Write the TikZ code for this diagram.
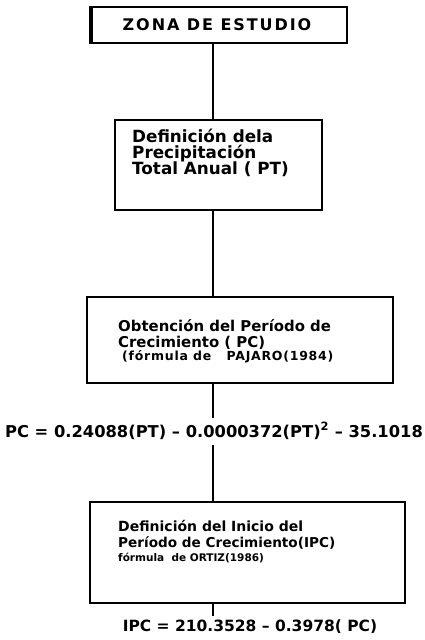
\documentclass[tikz,border=0pt]{standalone}
\usepackage{fontspec}
\setmainfont{DejaVu Sans}
\begin{document}
\begin{tikzpicture}[x=1pt,y=-1pt,
  box/.style={draw, line width=1.6pt, inner sep=0pt},
  txt/.style={anchor=base west, inner sep=0pt},
  eq/.style={anchor=base, inner sep=0pt},
  link/.style={line width=1.8pt}]
\useasboundingbox (0,0) rectangle (424,640);
\coordinate (spine) at (213,0);
% boxes
\node[box, minimum width=257pt, minimum height=36pt] (b1) at (218.5,25) {};
\draw[line width=1.6pt] ([xshift=2.5pt]b1.north west) -- ([xshift=2.5pt]b1.south west);
\node[box, minimum width=207pt, minimum height=90pt] (b2) at (218.5,165) {};
\node[box, minimum width=306pt, minimum height=86pt] (b3) at (240,340) {};
\node[box, minimum width=315pt, minimum height=101pt] (b4) at (247.5,552.5) {};
% texts
\node[anchor=center, inner sep=0pt, font=\bfseries\fontsize{16}{18}\addfontfeatures{LetterSpace=12}] (t1) at (217,25) {ZONA DE ESTUDIO};
\begin{scope}[every node/.append style={font=\bfseries\fontsize{16.8}{18}\selectfont}]
\node[txt] (t2a) at (132,142) {Definición dela};
\node[txt] (t2b) at (132,158) {Precipitación};
\node[txt] (t2c) at (132,174) {Total Anual ( PT)};
\end{scope}
\node[txt, font=\bfseries\fontsize{14.9}{18}\selectfont] (t3a) at (118,331) {Obtención del Período de};
\node[txt, font=\bfseries\fontsize{14.9}{18}\selectfont] (t3b) at (118,347) {Crecimiento ( PC)};
\node[txt, font=\bfseries\fontsize{12.5}{14}\addfontfeatures{LetterSpace=6}] (t3c) at (122,360) {(fórmula de \ \ PAJARO(1984)};
\node[txt, font=\bfseries\fontsize{14}{18}\selectfont] (t4a) at (118,531) {Definición del Inicio del};
\node[txt, font=\bfseries\fontsize{13.6}{18}\selectfont] (t4b) at (118,547) {Período de Crecimiento(IPC)};
\node[txt, font=\bfseries\fontsize{10.5}{14}\selectfont] (t4c) at (118,561) {fórmula \ de ORTIZ(1986)};
\node[eq, font=\bfseries\fontsize{16.3}{18}\selectfont] (e1) at (214,437) {PC = 0.24088(PT) -- 0.0000372(PT)\textsuperscript{2} -- 35.1018};
\node[eq, font=\bfseries\fontsize{15.5}{18}\selectfont] (e2) at (250,631) {IPC = 210.3528 -- 0.3978( PC)};
% connectors
\draw[link] (b1.south -| spine) -- (b2.north -| spine);
\draw[link] (b2.south -| spine) -- (b3.north -| spine);
\draw[link] (b3.south -| spine) -- ([yshift=4pt]e1.north -| spine);
\draw[link] ([yshift=-6pt]e1.south -| spine) -- (b4.north -| spine);
\draw[link] (b4.south -| spine) -- ([yshift=3pt]e2.north -| spine);
\end{tikzpicture}
\end{document}
